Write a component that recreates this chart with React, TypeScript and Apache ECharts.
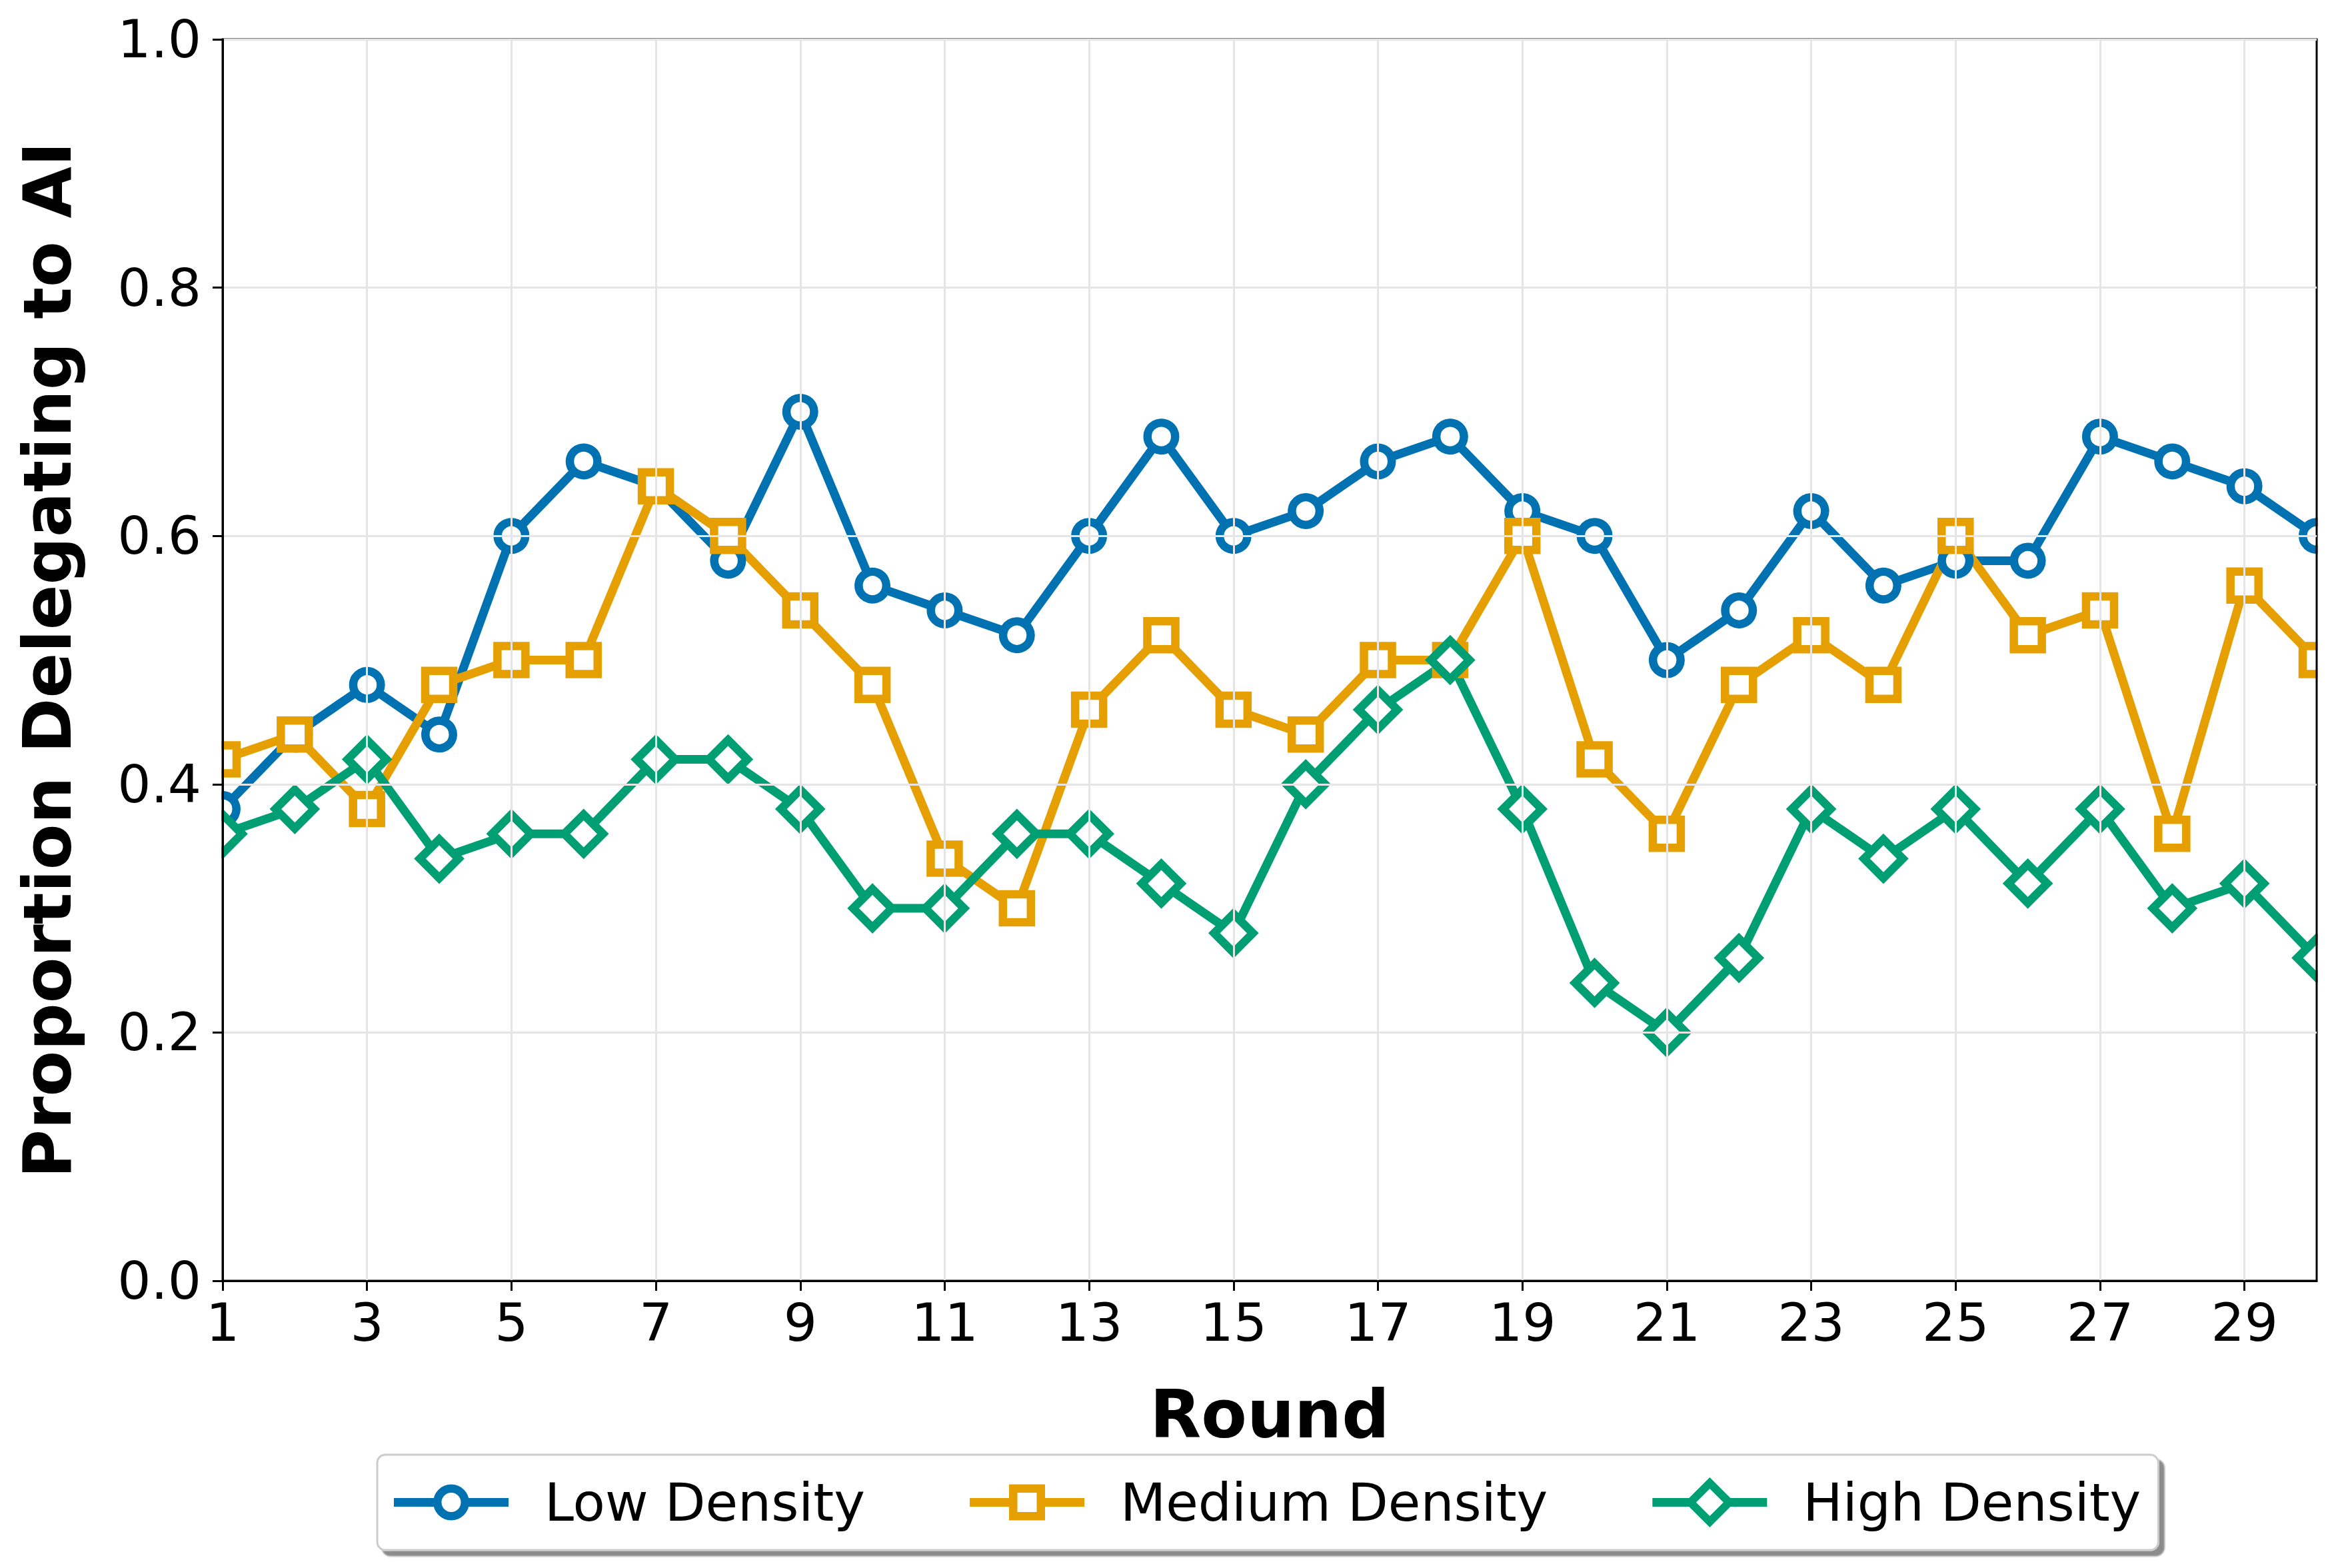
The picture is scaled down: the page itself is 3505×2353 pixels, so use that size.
import React, { useEffect, useRef } from "react";
import * as echarts from "echarts";

const rounds = Array.from({ length: 30 }, (_, i) => i + 1);
const xTickValues = [1, 3, 5, 7, 9, 11, 13, 15, 17, 19, 21, 23, 25, 27, 29];
const yTickValues = [0, 0.2, 0.4, 0.6, 0.8, 1.0];

const lowDensity = [
  0.38, 0.44, 0.48, 0.44, 0.6, 0.66, 0.64, 0.58, 0.7, 0.56,
  0.54, 0.52, 0.6, 0.68, 0.6, 0.62, 0.66, 0.68, 0.62, 0.6,
  0.5, 0.54, 0.62, 0.56, 0.58, 0.58, 0.68, 0.66, 0.64, 0.6,
];
const mediumDensity = [
  0.42, 0.44, 0.38, 0.48, 0.5, 0.5, 0.64, 0.6, 0.54, 0.48,
  0.34, 0.3, 0.46, 0.52, 0.46, 0.44, 0.5, 0.5, 0.6, 0.42,
  0.36, 0.48, 0.52, 0.48, 0.6, 0.52, 0.54, 0.36, 0.56, 0.5,
];
const highDensity = [
  0.36, 0.38, 0.42, 0.34, 0.36, 0.36, 0.42, 0.42, 0.38, 0.3,
  0.3, 0.36, 0.36, 0.32, 0.28, 0.4, 0.46, 0.5, 0.38, 0.24,
  0.2, 0.26, 0.38, 0.34, 0.38, 0.32, 0.38, 0.3, 0.32, 0.26,
];

const seriesNames = ["Low Density", "Medium Density", "High Density"];
const seriesColors = ["#0072B2", "#E69F00", "#009E73"];
const seriesSymbols = ["circle", "rect", "diamond"];
const seriesSymbolSizes = [41.5, 42, 58];

// Legend icons: line + hollow marker, as filled shapes (outer CW, inner CCW)
const legendIcons = [
  "path://M0 20.5 H65 V33.5 H0 Z M107 20.5 H172 V33.5 H107 Z " +
    "M59 27 A27 27 0 1 1 113 27 A27 27 0 1 1 59 27 Z " +
    "M71.5 27 A14.5 14.5 0 1 0 100.5 27 A14.5 14.5 0 1 0 71.5 27 Z",
  "path://M0 20.5 H65 V33.5 H0 Z M107 20.5 H172 V33.5 H107 Z " +
    "M59 0 H113 V54 H59 Z M71.5 12.5 V41.5 H100.5 V12.5 Z",
  "path://M0 31 H60 V44 H0 Z M112 31 H172 V44 H112 Z " +
    "M86 0 L123.5 37.5 L86 75 L48.5 37.5 Z M86 17 L65.5 37.5 L86 58 L106.5 37.5 Z",
];

const FONT = "DejaVu Sans";

export default function App() {
  const ref = useRef<HTMLDivElement>(null);

  useEffect(() => {
    document.body.style.margin = "0";
    if (!ref.current) return;
    const chart = echarts.init(ref.current, null, { renderer: "svg" });
    const dataSets = [lowDensity, mediumDensity, highDensity];

    const option: any = {
      animation: false,
      backgroundColor: "#ffffff",
      textStyle: { fontFamily: FONT },
      grid: {
        left: 334,
        right: 29,
        top: 59,
        bottom: 431,
        show: true,
        borderColor: "#000",
        borderWidth: 3,
        backgroundColor: "transparent",
        z: 5,
      },
      xAxis: {
        type: "value",
        min: 1,
        max: 30,
        interval: 2,
        z: 5,
        name: "Round",
        nameLocation: "middle",
        nameGap: 150,
        nameTextStyle: {
          fontFamily: FONT,
          fontSize: 100,
          fontWeight: "bold",
          color: "#000",
        },
        axisLine: { show: true, lineStyle: { color: "#000", width: 3 } },
        axisTick: {
          show: true,
          inside: false,
          length: 15,
          lineStyle: { color: "#000", width: 3 },
          customValues: xTickValues,
        },
        axisLabel: {
          fontFamily: FONT,
          fontSize: 79,
          color: "#000",
          margin: 23,
          customValues: xTickValues,
        },
        splitLine: { show: true, lineStyle: { color: "#e5e5e5", width: 3 } },
      },
      yAxis: {
        type: "value",
        min: 0,
        max: 1,
        interval: 0.2,
        z: 5,
        name: "Proportion Delegating to AI",
        nameLocation: "middle",
        nameGap: 213,
        nameTextStyle: {
          fontFamily: FONT,
          fontSize: 100,
          fontWeight: "bold",
          color: "#000",
        },
        axisLine: { show: true, lineStyle: { color: "#000", width: 3 } },
        axisTick: {
          show: true,
          inside: false,
          length: 15,
          lineStyle: { color: "#000", width: 3 },
        },
        axisLabel: {
          fontFamily: FONT,
          fontSize: 79,
          color: "#000",
          margin: 32,
          formatter: (v: number) => v.toFixed(1),
          customValues: yTickValues,
        },
        splitLine: { show: true, lineStyle: { color: "#e5e5e5", width: 3 } },
      },
      legend: {
        left: 566,
        top: 2183,
        orient: "horizontal",
        itemWidth: 172,
        itemHeight: 75,
        itemGap: 157,
        padding: [32, 26, 32, 25],
        backgroundColor: "#ffffff",
        borderColor: "#cccccc",
        borderWidth: 3,
        borderRadius: 12,
        shadowColor: "rgba(0,0,0,0.45)",
        shadowBlur: 2,
        shadowOffsetX: 8,
        shadowOffsetY: 8,
        selectedMode: false,
        symbolKeepAspect: true,
        textStyle: {
          fontFamily: FONT,
          fontSize: 79,
          color: "#000",
          padding: [0, 0, 0, 49],
        },
        data: seriesNames.map((name, i) => ({
          name,
          icon: legendIcons[i],
          itemStyle: {
            color: seriesColors[i],
            borderWidth: 0,
            borderColor: seriesColors[i],
          },
        })),
      },
      graphic: [
        {
          type: "rect",
          z: 4,
          silent: true,
          shape: { x: 0, y: 0, width: 332.5, height: 2100 },
          style: { fill: "#ffffff" },
        },
        {
          type: "rect",
          z: 4,
          silent: true,
          shape: { x: 3477.5, y: 0, width: 40, height: 2100 },
          style: { fill: "#ffffff" },
        },
      ],
      series: seriesNames.map((name, i) => ({
        name,
        type: "line",
        z: 2,
        data: rounds.map((r, k) => [r, dataSets[i][k]]),
        symbol: seriesSymbols[i],
        symbolSize: seriesSymbolSizes[i],
        showAllSymbol: true,
        clip: true,
        lineStyle: { color: seriesColors[i], width: 13 },
        itemStyle: {
          color: "#ffffff",
          borderColor: seriesColors[i],
          borderWidth: 12.5,
        },
        emphasis: { disabled: true },
      })),
    };

    chart.setOption(option);
    return () => {
      chart.dispose();
    };
  }, []);

  return <div ref={ref} style={{ width: 3505, height: 2353 }} />;
}
